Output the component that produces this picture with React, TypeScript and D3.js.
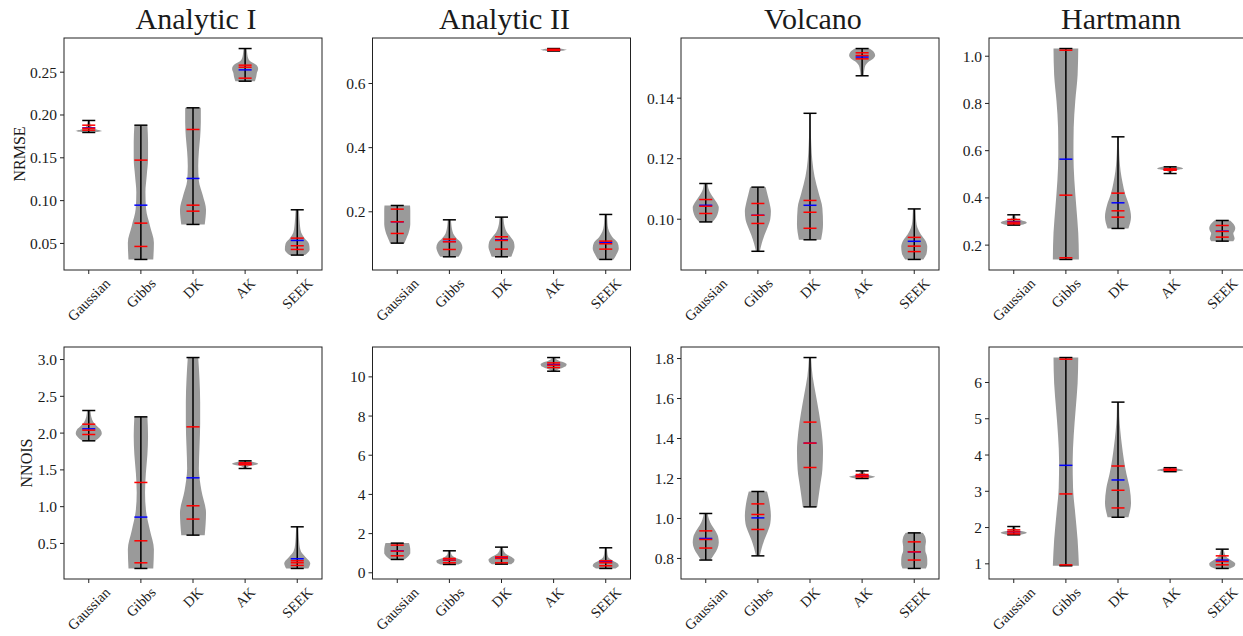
import React from "react";
import * as d3 from "d3";

type V = { min: number; max: number; q1: number; med: number; q3: number; mean: number; shape: number[] };
const v = (min: number, max: number, q1: number, med: number, q3: number, mean: number, shape: number[]): V => ({ min, max, q1, med, q3, mean, shape });

const categories = ["Gaussian", "Gibbs", "DK", "AK", "SEEK"];
const panelTitles = ["Analytic I", "Analytic II", "Volcano", "Hartmann"];
const rowLabels = ["NRMSE", "NNOIS"];

// NRMSE row
const nrmseAnalyticI: V[] = [
  v(0.1796, 0.1936, 0.1823, 0.1845, 0.1881, 0.185, [0.3, 1.0, 0.6, 0.3, 0.2, 0.15, 0.12, 0.1, 0.08]),
  v(0.0313, 0.1881, 0.0465, 0.0737, 0.1473, 0.0947, [0.95, 1.0, 0.7, 0.4, 0.35, 0.45, 0.55, 0.55, 0.5]),
  v(0.0722, 0.2084, 0.0877, 0.0947, 0.1831, 0.1259, [0.9, 1.0, 0.75, 0.45, 0.4, 0.45, 0.55, 0.6, 0.6]),
  v(0.2395, 0.2776, 0.243, 0.2558, 0.2582, 0.2527, [0.75, 0.85, 0.9, 1.0, 0.85, 0.35, 0.2, 0.15, 0.12]),
  v(0.0364, 0.0893, 0.043, 0.0473, 0.0562, 0.0535, [0.6, 0.95, 0.9, 0.55, 0.3, 0.22, 0.18, 0.15, 0.12]),
];
const nrmseAnalyticII: V[] = [
  v(0.1023, 0.2197, 0.1325, 0.1688, 0.2083, 0.1688, [0.55, 0.7, 0.85, 0.95, 1.0, 1.0, 1.0, 1.0, 0.98]),
  v(0.0597, 0.175, 0.0826, 0.1065, 0.1148, 0.1075, [0.7, 0.9, 1.0, 0.9, 0.55, 0.3, 0.2, 0.15, 0.12]),
  v(0.0597, 0.1834, 0.0836, 0.1107, 0.1221, 0.1128, [0.75, 0.9, 1.0, 0.95, 0.7, 0.4, 0.25, 0.18, 0.15]),
  v(0.7012, 0.709, 0.7035, 0.705, 0.7068, 0.7052, [0.4, 0.8, 1.0, 0.8, 0.4]),
  v(0.0514, 0.1917, 0.0836, 0.1003, 0.1086, 0.1044, [0.6, 0.85, 1.0, 0.9, 0.5, 0.25, 0.15, 0.12, 0.1]),
];
const nrmseVolcano: V[] = [
  v(0.0991, 0.1118, 0.1019, 0.1043, 0.1065, 0.1046, [0.5, 0.8, 0.95, 1.0, 0.85, 0.6, 0.35, 0.2, 0.15]),
  v(0.0894, 0.1106, 0.0986, 0.1013, 0.1052, 0.1013, [0.15, 0.3, 0.5, 0.75, 0.95, 1.0, 0.9, 0.75, 0.6]),
  v(0.0932, 0.135, 0.097, 0.1023, 0.1062, 0.1046, [0.85, 1.0, 0.95, 0.65, 0.35, 0.18, 0.1, 0.06, 0.05]),
  v(0.1474, 0.1564, 0.153, 0.1541, 0.155, 0.1536, [0.12, 0.14, 0.18, 0.25, 0.45, 0.85, 1.0, 0.9, 0.55]),
  v(0.0867, 0.1034, 0.0893, 0.0911, 0.094, 0.0927, [0.7, 0.95, 1.0, 0.85, 0.5, 0.25, 0.15, 0.12, 0.1]),
];
const nrmseHartmann: V[] = [
  v(0.2847, 0.3284, 0.2903, 0.2974, 0.3087, 0.299, [0.5, 0.9, 1.0, 0.85, 0.5, 0.25, 0.15, 0.12, 0.1]),
  v(0.1393, 1.0325, 0.1464, 0.4116, 1.0254, 0.564, [1.0, 0.95, 0.8, 0.65, 0.58, 0.6, 0.72, 0.9, 0.95]),
  v(0.2706, 0.6586, 0.3185, 0.3453, 0.4201, 0.3792, [0.8, 1.0, 0.85, 0.55, 0.35, 0.2, 0.12, 0.08, 0.07]),
  v(0.5033, 0.5316, 0.517, 0.52, 0.523, 0.52, [0.1, 0.12, 0.15, 0.25, 0.45, 0.8, 1.0, 0.9, 0.6]),
  v(0.2169, 0.3044, 0.2339, 0.258, 0.2832, 0.2593, [0.85, 0.95, 0.9, 0.85, 0.95, 1.0, 0.95, 0.8, 0.6]),
];
// NNOIS row
const nnoisAnalyticI: V[] = [
  v(1.895, 2.307, 1.981, 2.04, 2.121, 2.058, [0.5, 0.85, 1.0, 0.9, 0.6, 0.35, 0.22, 0.16, 0.13]),
  v(0.16, 2.221, 0.237, 0.536, 1.329, 0.858, [0.95, 1.0, 0.7, 0.4, 0.32, 0.38, 0.5, 0.55, 0.5]),
  v(0.613, 3.027, 0.831, 1.012, 2.085, 1.392, [0.9, 1.0, 0.65, 0.45, 0.5, 0.55, 0.55, 0.5, 0.4]),
  v(1.519, 1.623, 1.57, 1.58, 1.596, 1.58, [0.12, 0.15, 0.25, 0.5, 0.85, 1.0, 0.85, 0.55, 0.3]),
  v(0.16, 0.726, 0.201, 0.237, 0.264, 0.292, [0.85, 1.0, 0.7, 0.35, 0.2, 0.15, 0.12, 0.1, 0.08]),
];
const nnoisAnalyticII: V[] = [
  v(0.68, 1.514, 0.867, 1.105, 1.412, 1.122, [0.55, 0.75, 0.9, 1.0, 1.0, 1.0, 0.98, 0.95, 0.9]),
  v(0.425, 1.122, 0.51, 0.646, 0.731, 0.64, [0.7, 0.95, 1.0, 0.8, 0.45, 0.25, 0.15, 0.12, 0.1]),
  v(0.442, 1.31, 0.51, 0.731, 0.816, 0.765, [0.75, 0.95, 1.0, 0.85, 0.55, 0.3, 0.18, 0.13, 0.1]),
  v(10.289, 10.986, 10.476, 10.595, 10.714, 10.629, [0.15, 0.35, 0.7, 0.95, 1.0, 0.85, 0.45, 0.2, 0.12]),
  v(0.221, 1.276, 0.357, 0.51, 0.612, 0.578, [0.75, 1.0, 0.9, 0.55, 0.25, 0.15, 0.12, 0.1, 0.08]),
];
const nnoisVolcano: V[] = [
  v(0.792, 1.025, 0.852, 0.895, 0.938, 0.9, [0.35, 0.65, 0.9, 1.0, 0.95, 0.75, 0.45, 0.25, 0.15]),
  v(0.813, 1.135, 0.945, 1.02, 1.073, 1.003, [0.15, 0.3, 0.5, 0.75, 0.95, 1.0, 0.95, 0.85, 0.7]),
  v(1.058, 1.805, 1.255, 1.377, 1.482, 1.377, [0.55, 0.75, 0.95, 1.0, 0.9, 0.7, 0.45, 0.2, 0.08]),
  v(1.2, 1.238, 1.208, 1.212, 1.22, 1.213, [0.5, 0.85, 1.0, 0.7, 0.4, 0.25, 0.18, 0.15, 0.12]),
  v(0.75, 0.928, 0.792, 0.833, 0.883, 0.833, [0.9, 1.0, 1.0, 0.95, 0.85, 0.85, 0.9, 0.85, 0.65]),
];
const nnoisHartmann: V[] = [
  v(1.798, 2.028, 1.826, 1.881, 1.936, 1.885, [0.5, 0.85, 1.0, 0.85, 0.5, 0.25, 0.15, 0.12, 0.1]),
  v(0.945, 6.688, 0.972, 2.927, 6.642, 3.716, [1.0, 0.9, 0.72, 0.55, 0.52, 0.6, 0.75, 0.9, 0.95]),
  v(2.284, 5.459, 2.541, 3.028, 3.697, 3.312, [0.8, 1.0, 0.9, 0.65, 0.45, 0.3, 0.18, 0.1, 0.08]),
  v(3.541, 3.651, 3.58, 3.6, 3.61, 3.598, [0.3, 0.6, 0.9, 1.0, 0.95, 0.8, 0.6, 0.4, 0.25]),
  v(0.872, 1.404, 0.972, 1.064, 1.22, 1.101, [0.6, 0.95, 1.0, 0.8, 0.5, 0.3, 0.2, 0.15, 0.12]),
];

const ticksNrmseAnalyticI = [0.05, 0.1, 0.15, 0.2, 0.25];
const ticksNrmseAnalyticII = [0.2, 0.4, 0.6];
const ticksNrmseVolcano = [0.1, 0.12, 0.14];
const ticksNrmseHartmann = [0.2, 0.4, 0.6, 0.8, 1.0];
const ticksNnoisAnalyticI = [0.5, 1.0, 1.5, 2.0, 2.5, 3.0];
const ticksNnoisAnalyticII = [0, 2, 4, 6, 8, 10];
const ticksNnoisVolcano = [0.8, 1.0, 1.2, 1.4, 1.6, 1.8];
const ticksNnoisHartmann = [1, 2, 3, 4, 5, 6];

const panels = [
  { row: 0, col: 0, data: nrmseAnalyticI, ticks: ticksNrmseAnalyticI, fmt: ".2f" },
  { row: 0, col: 1, data: nrmseAnalyticII, ticks: ticksNrmseAnalyticII, fmt: ".1f" },
  { row: 0, col: 2, data: nrmseVolcano, ticks: ticksNrmseVolcano, fmt: ".2f" },
  { row: 0, col: 3, data: nrmseHartmann, ticks: ticksNrmseHartmann, fmt: ".1f" },
  { row: 1, col: 0, data: nnoisAnalyticI, ticks: ticksNnoisAnalyticI, fmt: ".1f" },
  { row: 1, col: 1, data: nnoisAnalyticII, ticks: ticksNnoisAnalyticII, fmt: "d" },
  { row: 1, col: 2, data: nnoisVolcano, ticks: ticksNnoisVolcano, fmt: ".1f" },
  { row: 1, col: 3, data: nnoisHartmann, ticks: ticksNnoisHartmann, fmt: "d" },
];

const W = 1243;
const H = 636;
const colLefts = [64, 372.5, 681, 989];
const rowTops = [38, 347];
const PW = 258;
const PH = 232;
const rowLabelX = [19, 26];
const FONT = "'Liberation Serif', 'DejaVu Serif', serif";
const TICK_FS = 15.5;
const XLAB_FS = 14.5;
const TXT = "#1a1a1a";

let ctx: CanvasRenderingContext2D | null = null;
function measure(t: string, fs: number): number {
  if (!ctx) ctx = document.createElement("canvas").getContext("2d");
  if (!ctx) return t.length * fs * 0.5;
  ctx.font = `${fs}px 'Liberation Serif'`;
  return ctx.measureText(t).width;
}

function Panel({ p }: { p: (typeof panels)[number] }) {
  const left = colLefts[p.col];
  const top = rowTops[p.row];
  const xs = d3.scaleLinear().domain([0.525, 5.475]).range([left, left + PW]);
  const lo = d3.min(p.data, (d) => d.min)!;
  const hi = d3.max(p.data, (d) => d.max)!;
  const r = hi - lo;
  const ys = d3.scaleLinear().domain([lo - 0.05 * r, hi + 0.05 * r]).range([top + PH, top]);
  const fmt = d3.format(p.fmt);
  const halfW = xs(0.25) - xs(0);
  const capW = xs(0.125) - xs(0);
  const bottom = top + PH;

  return (
    <g>
      {p.data.map((d, i) => {
        const pos = i + 1;
        const cx = xs(pos);
        const n = d.shape.length;
        const pts: [number, number][] = d.shape.map((w, k) => [d.min + (k * (d.max - d.min)) / (n - 1), w]);
        pts.sort((a, b) => ys(a[0]) - ys(b[0]));
        const area = d3
          .area<[number, number]>()
          .x0((q) => cx - halfW * q[1])
          .x1((q) => cx + halfW * q[1])
          .y((q) => ys(q[0]))
          .curve(d3.curveMonotoneY);
        const hl = (val: number, color: string, key: string) => (
          <line key={key} x1={cx - capW} x2={cx + capW} y1={ys(val)} y2={ys(val)} stroke={color} strokeWidth={1.5} />
        );
        return (
          <g key={i}>
            <path d={area(pts) || ""} fill="#9a9a9a" stroke="none" />
            <line x1={cx} x2={cx} y1={ys(d.min)} y2={ys(d.max)} stroke="#000" strokeWidth={1.5} />
            {hl(d.min, "#000", "mn")}
            {hl(d.max, "#000", "mx")}
            {hl(d.mean, "#0000ff", "mean")}
            {hl(d.q1, "#ff0000", "q1")}
            {hl(d.med, "#ff0000", "med")}
            {hl(d.q3, "#ff0000", "q3")}
          </g>
        );
      })}
      <rect x={left} y={top} width={PW} height={PH} fill="none" stroke="#222" strokeWidth={1} />
      {p.ticks.map((t) => (
        <g key={t}>
          <line x1={left - 4} x2={left} y1={ys(t)} y2={ys(t)} stroke="#222" strokeWidth={1} />
          <text x={left - 7} y={ys(t)} textAnchor="end" dominantBaseline="central" fontFamily={FONT} fontSize={TICK_FS} fill={TXT}>
            {fmt(t)}
          </text>
        </g>
      ))}
      {categories.map((c, i) => {
        const x = xs(i + 1);
        const w = measure(c, XLAB_FS);
        const bh = (w + XLAB_FS * 0.75) * Math.SQRT1_2;
        const cy = bottom + 7 + bh / 2;
        return (
          <g key={c}>
            <line x1={x} x2={x} y1={bottom} y2={bottom + 4} stroke="#222" strokeWidth={1} />
            <text
              x={x}
              y={cy}
              textAnchor="middle"
              dominantBaseline="central"
              transform={`rotate(-45 ${x} ${cy})`}
              fontFamily={FONT}
              fontSize={XLAB_FS}
              fill={TXT}
            >
              {c}
            </text>
          </g>
        );
      })}
      {p.row === 0 && (
        <text x={left + PW / 2 + 3} y={29} textAnchor="middle" fontFamily={FONT} fontSize={30} fill={TXT}>
          {panelTitles[p.col]}
        </text>
      )}
      {p.col === 0 && (
        <text
          x={rowLabelX[p.row]}
          y={top + PH / 2}
          textAnchor="middle"
          dominantBaseline="central"
          transform={`rotate(-90 ${rowLabelX[p.row]} ${top + PH / 2})`}
          fontFamily={FONT}
          fontSize={16}
          fill={TXT}
        >
          {rowLabels[p.row]}
        </text>
      )}
    </g>
  );
}

export default function App() {
  return (
    <svg
      width={W}
      height={H}
      viewBox={`0 0 ${W} ${H}`}
      style={{ position: "absolute", left: 0, top: 0, background: "#fff", display: "block" }}
    >
      <rect x={0} y={0} width={W} height={H} fill="#fff" />
      {panels.map((p, i) => (
        <Panel key={i} p={p} />
      ))}
    </svg>
  );
}
